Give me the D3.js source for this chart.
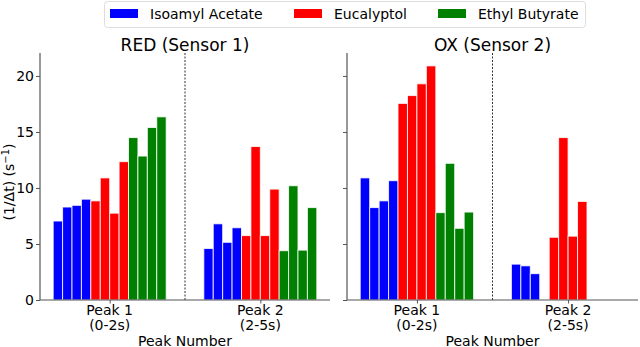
<!DOCTYPE html>
<html lang="en">
<head>
<meta charset="utf-8">
<title>Peak rates</title>
<style>
  body { margin: 0; background: #fff; }
  svg text { font-family: "DejaVu Sans", sans-serif; fill: #000; }
  .spine { stroke: #555; stroke-width: 1.2px; }
  .tick line { stroke: #555; }
  .bar { stroke: #fff; stroke-width: 1px; stroke-opacity: 0.8; }
</style>
</head>
<body>
<div id="chart"></div>
<script src="https://cdnjs.cloudflare.com/ajax/libs/d3/7.8.5/d3.min.js"></script>
<script>
// categories
var peaks = ['Peak 1', 'Peak 2'];
var peakRanges = ['(0-2s)', '(2-5s)'];
var compounds = ['Isoamyl Acetate', 'Eucalyptol', 'Ethyl Butyrate'];
var colors = ['#0000ff', '#ff0000', '#008000'];
var yTicks = [0, 5, 10, 15, 20];

// four trials per compound, per peak
var redPeak1 = [7.05, 8.3, 8.45, 9.0,  8.85, 10.9, 7.75, 12.35,  14.5, 12.85, 15.4, 16.35];
var redPeak2 = [4.6, 6.8, 5.15, 6.45,  5.75, 13.7, 5.75, 9.9,  4.4, 10.2, 4.45, 8.25];
var oxPeak1  = [10.9, 8.25, 8.85, 10.65,  17.55, 18.25, 19.3, 20.9,  7.8, 12.2, 6.4, 7.85];
var oxPeak2  = [3.2, 3.05, 2.35, 0,  5.6, 14.5, 5.7, 8.8,  0, 0, 0, 0];

var panels = [
  { title: 'RED (Sensor 1)', data: [redPeak1, redPeak2], left: 40, right: 330, showY: true },
  { title: 'OX (Sensor 2)',  data: [oxPeak1, oxPeak2],  left: 347, right: 638, showY: false }
];

var width = 640, height = 347,
    plotTop = 53, plotBottom = 300;

var svg = d3.select('#chart').append('svg')
    .attr('width', width)
    .attr('height', height);

var y = d3.scaleLinear().domain([0, 22.05]).range([plotBottom, plotTop]);

var nBars = 12, groupWidth = 0.75, barW = groupWidth / nBars;

panels.forEach(function(p) {
  var x = d3.scaleLinear().domain([-0.4625, 1.4625]).range([p.left, p.right]);
  var g = svg.append('g');

  // bars (zero values are not drawn, but keep their slot)
  p.data.forEach(function(vals, pi) {
    var items = vals.map(function(v, i) { return { v: v, i: i }; })
                    .filter(function(d) { return d.v > 0; });
    g.selectAll(null)
      .data(items)
      .enter().append('rect')
      .attr('class', 'bar')
      .attr('x', function(d) { return x(pi - groupWidth / 2 + d.i * barW); })
      .attr('width', x(barW) - x(0))
      .attr('y', function(d) { return y(d.v); })
      .attr('height', function(d) { return y(0) - y(d.v); })
      .attr('fill', function(d) { return colors[Math.floor(d.i / 4)]; });
  });

  // dashed separator
  g.append('line')
    .attr('x1', x(0.5)).attr('x2', x(0.5))
    .attr('y1', plotTop).attr('y2', plotBottom)
    .attr('stroke', '#333')
    .attr('stroke-width', 1)
    .attr('stroke-dasharray', '2,1.5');

  // y axis
  var yAxis = d3.axisLeft(y).tickValues(yTicks).tickSize(4).tickPadding(2)
    .tickFormat(p.showY ? d3.format('d') : '');
  var ya = g.append('g').attr('transform', 'translate(' + p.left + ',0)').call(yAxis);
  ya.select('.domain').remove();
  ya.selectAll('text').style('font-size', '14px');

  // x axis ticks
  var xAxis = d3.axisBottom(x).tickValues([0, 1]).tickSize(3.5).tickFormat('');
  var xa = g.append('g').attr('transform', 'translate(0,' + plotBottom + ')').call(xAxis);
  xa.select('.domain').remove();

  // spines
  g.append('line').attr('class', 'spine')
    .attr('x1', p.left).attr('x2', p.left).attr('y1', plotTop).attr('y2', plotBottom);
  g.append('line').attr('class', 'spine')
    .attr('x1', p.left).attr('x2', p.right).attr('y1', plotBottom).attr('y2', plotBottom);

  // x tick labels
  peaks.forEach(function(name, i) {
    g.append('text').attr('x', x(i)).attr('y', 315)
      .attr('text-anchor', 'middle').style('font-size', '14px').text(name);
    g.append('text').attr('x', x(i)).attr('y', 330)
      .attr('text-anchor', 'middle').style('font-size', '14px').text(peakRanges[i]);
  });

  g.append('text').attr('x', (p.left + p.right) / 2).attr('y', 345.5)
    .attr('text-anchor', 'middle').style('font-size', '14px').text('Peak Number');

  g.append('text').attr('x', (p.left + p.right) / 2).attr('y', 51)
    .attr('text-anchor', 'middle').style('font-size', '17px').text(p.title);
});

// y label
var yLabel = svg.append('text')
  .attr('transform', 'translate(13.5,182) rotate(-90)')
  .attr('text-anchor', 'middle')
  .style('font-size', '14px');
yLabel.append('tspan').text('(1/\u0394t) (s');
yLabel.append('tspan').attr('dy', -5).style('font-size', '10px').text('\u22121');
yLabel.append('tspan').attr('dy', 5).text(')');

// legend
var legend = svg.append('g');
legend.append('rect')
  .attr('x', 104.5).attr('y', 1.5).attr('width', 481).attr('height', 26)
  .attr('rx', 3).attr('fill', '#fff').attr('stroke', '#ddd');
var legendX = [110, 294, 438];
compounds.forEach(function(name, i) {
  legend.append('rect')
    .attr('x', legendX[i]).attr('y', 9).attr('width', 28).attr('height', 9)
    .attr('fill', colors[i]);
  legend.append('text')
    .attr('x', legendX[i] + 40).attr('y', 18.5)
    .style('font-size', '14px').text(name);
});
</script>
</body>
</html>
